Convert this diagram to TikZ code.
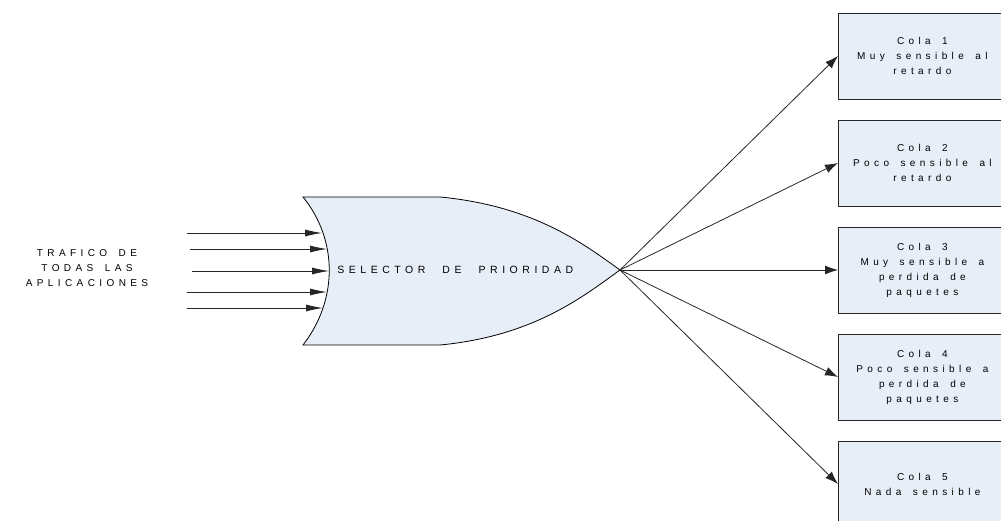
\documentclass[tikz,border=0pt]{standalone}
\usepackage{fontspec}
\setmainfont{Liberation Sans}
\newfontfamily\spaced[LetterSpace=44, WordSpace=1.6]{Liberation Sans}
\newfontfamily\widespaced[LetterSpace=43, WordSpace=2.3]{Liberation Sans}
\usetikzlibrary{arrows.meta}
\definecolor{boxfill}{RGB}{232,238,247}

\begin{document}
\begin{tikzpicture}[x=1pt, y=-1pt, line width=0.8pt,
    every node/.style={font=\spaced\fontsize{10}{15}\selectfont},
    queue/.style={draw=black!85, fill=boxfill, anchor=west, align=center,
        minimum width=168pt, minimum height=86pt, inner sep=0pt},
    inarrow/.style={-{Latex[length=17pt,width=7pt]}, black!85},
    outarrow/.style={-{Latex[length=13pt,width=9pt]}, black!85}]
    \useasboundingbox (0,0) rectangle (1001,521);

    % Selector.
    \draw [fill=boxfill] (303,197) -- (440,197)
        .. controls (535,206) and (585,245) .. (620,270)
        .. controls (585,295) and (535,336) .. (440,345) -- (303,345)
        .. controls (338,300) and (338,240) .. (303,197) -- cycle;
    \coordinate (tip) at (620,270);
    \node (selector) [anchor=west, inner sep=0pt, font=\widespaced\fontsize{10.5}{14}\selectfont]
        at (337,270) {SELECTOR DE PRIORIDAD};

    % Traffic.
    \node (trafico) [align=center] at (87,268)
        {TRAFICO DE\\TODAS LAS\\APLICACIONES};
    \coordinate (in1) at (187,233); \coordinate (e1) at (322,233);
    \coordinate (in2) at (190,249); \coordinate (e2) at (327,249);
    \coordinate (in3) at (192,271); \coordinate (e3) at (329,271);
    \coordinate (in4) at (187,292); \coordinate (e4) at (327,292);
    \coordinate (in5) at (187,308); \coordinate (e5) at (323,308);
    \foreach \i in {1,...,5}
        \draw [inarrow] (in\i) -- (e\i);

    % Queues.
    \node (cola1) [queue] at (838, 56) {Cola 1\\Muy sensible al\\retardo};
    \node (cola2) [queue] at (838,163) {Cola 2\\Poco sensible al\\retardo};
    \node (cola3) [queue] at (838,270) {Cola 3\\Muy sensible a\\perdida de\\paquetes};
    \node (cola4) [queue] at (838,377) {Cola 4\\Poco sensible a\\perdida de\\paquetes};
    \node (cola5) [queue] at (838,484) {Cola 5\\Nada sensible};

    % Arrows to the queues.
    \foreach \i in {1,...,5}
        \draw [outarrow] (tip) -- (cola\i.west);

\end{tikzpicture}
\end{document}
